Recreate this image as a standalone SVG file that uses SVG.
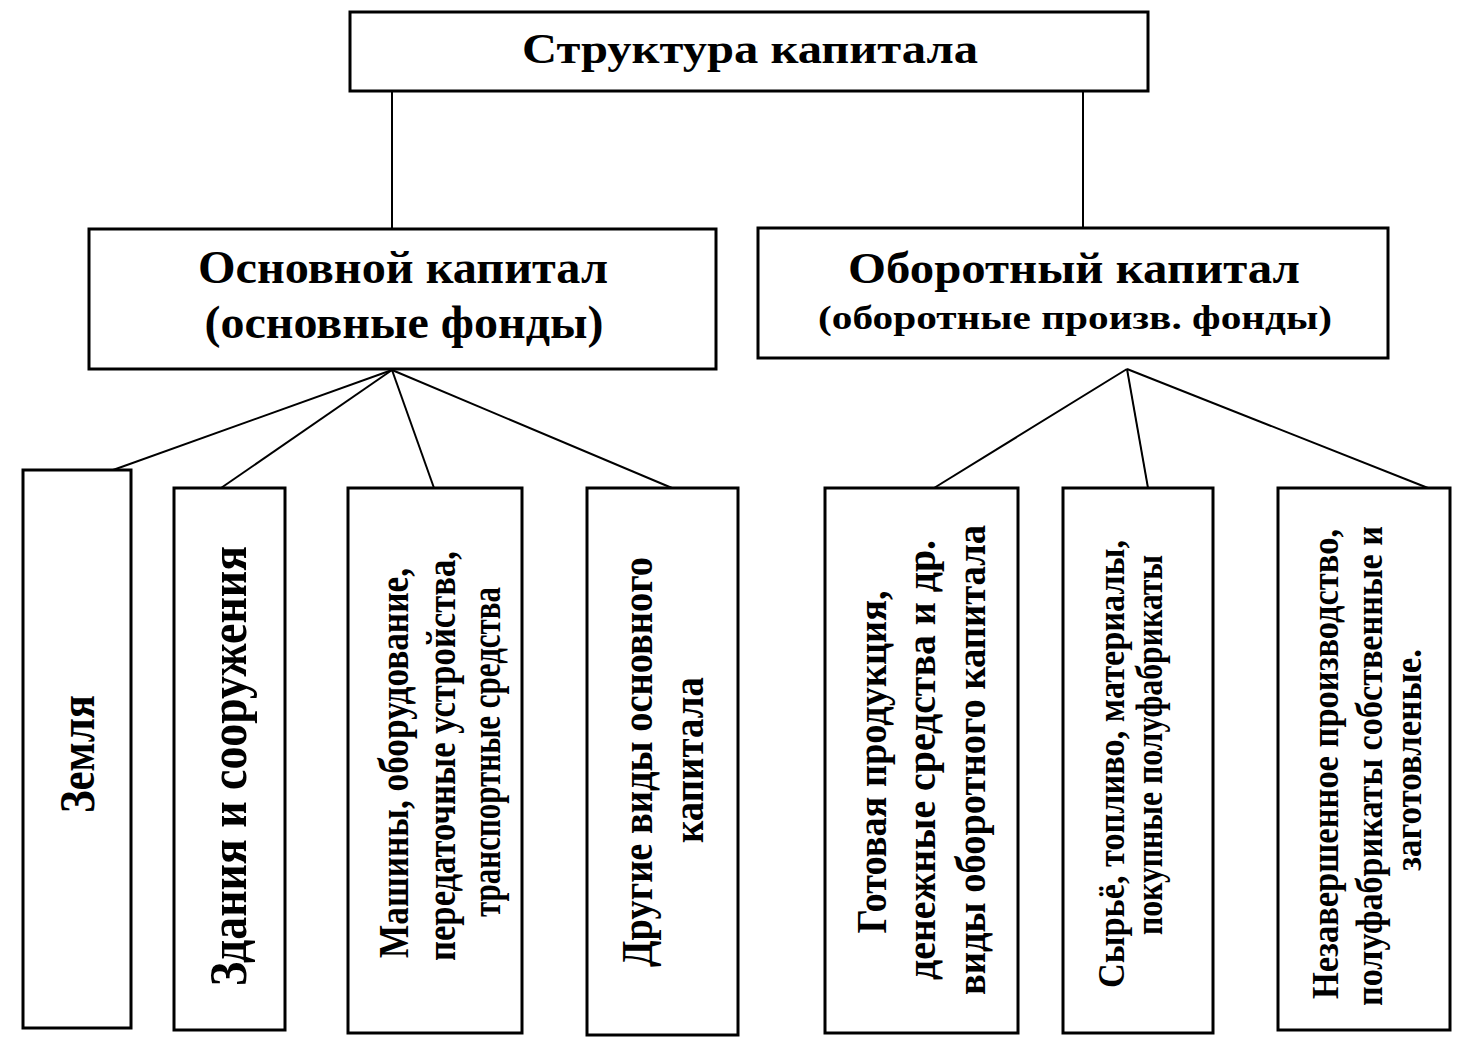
<svg xmlns="http://www.w3.org/2000/svg" width="1478" height="1045" viewBox="0 0 1478 1045">
<style>
.box{fill:#fff;stroke:#000;stroke-width:3}
.ln{stroke:#000;stroke-width:2;fill:none}
text{font-family:"Liberation Serif","Times New Roman",serif;font-weight:bold;fill:#000;text-anchor:middle}
</style>
<rect width="1478" height="1045" fill="#fff"/>
<g id="connectors">
<line class="ln" x1="392" y1="91" x2="392" y2="229"/>
<line class="ln" x1="1083" y1="91" x2="1083" y2="228"/>
<line class="ln" x1="392" y1="370" x2="113" y2="470"/>
<line class="ln" x1="392" y1="370" x2="221" y2="488"/>
<line class="ln" x1="392" y1="370" x2="434" y2="488"/>
<line class="ln" x1="392" y1="370" x2="672" y2="488"/>
<line class="ln" x1="1127" y1="369" x2="934" y2="488"/>
<line class="ln" x1="1127" y1="369" x2="1148" y2="488"/>
<line class="ln" x1="1127" y1="369" x2="1428" y2="488"/>
</g>
<g id="root">
<rect class="box" x="350" y="12" width="798" height="79"/>
<text x="750" y="63" font-size="42" textLength="456" lengthAdjust="spacingAndGlyphs">Структура капитала</text>
</g>
<g id="fixed">
<rect class="box" x="89" y="229" width="627" height="140"/>
<text x="403" y="283" font-size="46" textLength="410" lengthAdjust="spacingAndGlyphs">Основной капитал</text>
<text x="404" y="338" font-size="46" textLength="399" lengthAdjust="spacingAndGlyphs">(основные фонды)</text>
</g>
<g id="working">
<rect class="box" x="758" y="228" width="630" height="130"/>
<text x="1074" y="283" font-size="45" textLength="452" lengthAdjust="spacingAndGlyphs">Оборотный капитал</text>
<text x="1075" y="329" font-size="34" textLength="514" lengthAdjust="spacingAndGlyphs">(оборотные произв. фонды)</text>
</g>
<g id="land">
<rect class="box" x="23" y="470" width="108" height="558"/>
<text transform="translate(94,754) rotate(-90)" font-size="50" textLength="118" lengthAdjust="spacingAndGlyphs">Земля</text>
</g>
<g id="buildings">
<rect class="box" x="174" y="488" width="111" height="542"/>
<text transform="translate(246,766) rotate(-90)" font-size="52" textLength="440" lengthAdjust="spacingAndGlyphs">Здания и сооружения</text>
</g>
<g id="machines">
<rect class="box" x="348" y="488" width="174" height="545"/>
<text transform="translate(408,763) rotate(-90)" font-size="43" textLength="390" lengthAdjust="spacingAndGlyphs">Машины, оборудование,</text>
<text transform="translate(455,756) rotate(-90)" font-size="43" textLength="410" lengthAdjust="spacingAndGlyphs">передаточные устройства,</text>
<text transform="translate(500,752) rotate(-90)" font-size="43" textLength="330" lengthAdjust="spacingAndGlyphs">транспортные средства</text>
</g>
<g id="other-fixed">
<rect class="box" x="587" y="488" width="151" height="547"/>
<text transform="translate(652,762) rotate(-90)" font-size="45" textLength="410" lengthAdjust="spacingAndGlyphs">Другие виды основного</text>
<text transform="translate(703,760) rotate(-90)" font-size="45" textLength="166" lengthAdjust="spacingAndGlyphs">капитала</text>
</g>
<g id="finished">
<rect class="box" x="825" y="488" width="193" height="545"/>
<text transform="translate(886,762) rotate(-90)" font-size="43" textLength="343" lengthAdjust="spacingAndGlyphs">Готовая продукция,</text>
<text transform="translate(935,760) rotate(-90)" font-size="43" textLength="440" lengthAdjust="spacingAndGlyphs">денежные средства и др.</text>
<text transform="translate(985,760) rotate(-90)" font-size="43" textLength="470" lengthAdjust="spacingAndGlyphs">виды оборотного капитала</text>
</g>
<g id="materials">
<rect class="box" x="1063" y="488" width="150" height="545"/>
<text transform="translate(1124,764) rotate(-90)" font-size="37" textLength="448" lengthAdjust="spacingAndGlyphs">Сырьё, топливо, материалы,</text>
<text transform="translate(1162,745) rotate(-90)" font-size="37" textLength="380" lengthAdjust="spacingAndGlyphs">покупные полуфабрикаты</text>
</g>
<g id="wip">
<rect class="box" x="1278" y="488" width="172" height="542"/>
<text transform="translate(1338,764) rotate(-90)" font-size="38" textLength="470" lengthAdjust="spacingAndGlyphs">Незавершенное производство,</text>
<text transform="translate(1382,766) rotate(-90)" font-size="38" textLength="480" lengthAdjust="spacingAndGlyphs">полуфабрикаты собственные и</text>
<text transform="translate(1421,760) rotate(-90)" font-size="38" textLength="222" lengthAdjust="spacingAndGlyphs">заготовленые.</text>
</g>
</svg>
